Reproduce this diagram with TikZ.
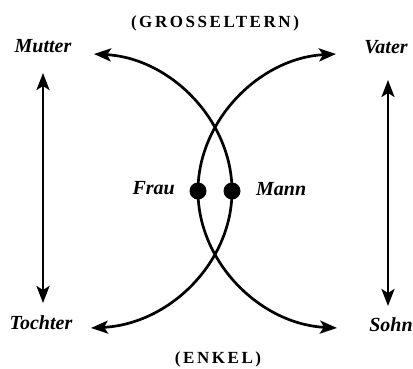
\documentclass[tikz,border=0pt]{standalone}
\usepackage{fontspec}
\setmainfont{Liberation Serif}
\usetikzlibrary{arrows.meta}
\begin{document}
\begin{tikzpicture}[x=1pt,y=-1pt,
  tip/.tip={Stealth[length=17pt,width=13pt,inset=4pt]},
  conn/.style={line width=2.7pt,-tip},
  both/.style={line width=2.7pt,tip-tip},
  dot/.style={circle,fill=black,inner sep=0pt,minimum size=17pt},
  lab/.style={font=\fontsize{20}{22}\selectfont\bfseries\itshape,inner sep=0pt},
  gencap/.style={font=\fontsize{17}{18}\selectfont\bfseries\addfontfeature{LetterSpace=15},inner sep=0pt}]
\useasboundingbox (0,0) rectangle (413,368);
\node[dot] (frau) at (198,191) {};
\node[dot] (mann) at (232,191) {};
\coordinate (mutterT) at (94,54);
\coordinate (vaterT) at (336,54);
\coordinate (tochterT) at (91,328);
\coordinate (sohnT) at (337,328);
\node[lab] (mutter) at (43,46) {Mutter};
\node[lab] (vater) at (386,47) {Vater};
\node[lab] (tochter) at (41,323) {Tochter};
\node[lab] (sohn) at (391,325) {Sohn};
\node[lab,anchor=east] (frauL) at (175,188) {Frau};
\node[lab,anchor=west] (mannL) at (256,189) {Mann};
\node[gencap] (gross) at (215,23) {(GROSSELTERN)};
\node[gencap] (enkel) at (218,359) {(ENKEL)};
\coordinate (lt) at (43,73);
\coordinate (lb) at (43,303);
\coordinate (rt) at (388,80);
\coordinate (rb) at (388,306);
\draw[both] (lt) -- (lb);
\draw[both] (rt) -- (rb);
\draw[conn] (frau.center) .. controls (198,120) and (260,58) .. (vaterT);
\draw[conn] (frau.center) .. controls (198,262) and (260,324) .. (sohnT);
\draw[conn] (mann.center) .. controls (232,120) and (170,58) .. (mutterT);
\draw[conn] (mann.center) .. controls (232,262) and (170,324) .. (tochterT);
\end{tikzpicture}
\end{document}
